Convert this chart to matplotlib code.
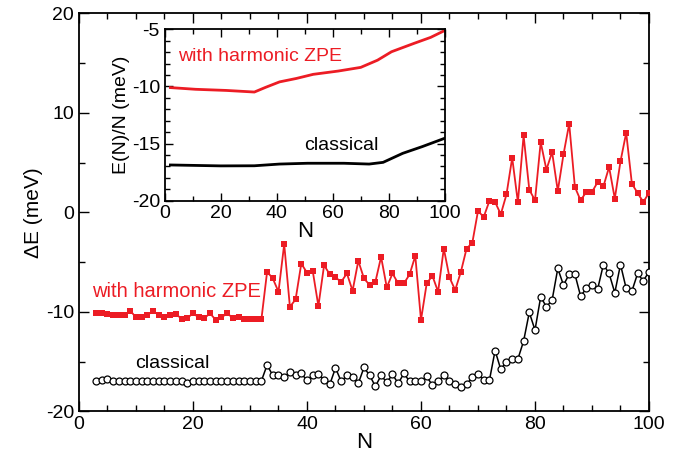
import numpy as np
import matplotlib
matplotlib.use("Agg")
import matplotlib.pyplot as plt
from matplotlib.ticker import MultipleLocator

plt.rcParams["font.family"] = ["Liberation Sans", "DejaVu Sans"]
plt.rcParams["axes.unicode_minus"] = False

RED = "#ec1c24"

# main panel: Delta E per cluster size N
n_vals = list(range(3, 101))

zpe_vals = [
    -10.16, -10.16, -10.23, -10.36, -10.36, -10.30, -9.90, -10.56, -10.56, -10.30,
    -9.96, -10.30, -10.56, -10.36, -10.23, -10.70, -10.63, -10.16, -10.56, -10.63,
    -10.16, -10.83, -10.56, -10.16, -10.63, -10.56, -10.70, -10.76, -10.76, -10.76,
    -5.98, -6.65, -7.99, -3.20, -9.50, -8.76, -5.15, -6.08, -5.88, -9.43,
    -5.32, -6.25, -6.55, -6.99, -6.15, -7.89, -4.88, -6.65, -7.32, -6.99,
    -4.48, -7.55, -6.15, -7.15, -7.15, -6.25, -4.38, -10.83, -7.15, -6.38,
    -7.99, -3.64, -6.55, -7.82, -5.98, -3.64, -3.08, 0.13, -0.47, 1.13,
    1.03, -0.20, 1.80, 5.48, 1.00, 7.72, 2.27, 1.20, 7.05, 4.28,
    6.05, 2.14, 5.82, 8.90, 2.54, 1.20, 2.04, 2.04, 3.04, 2.60,
    4.55, 1.37, 5.12, 7.99, 2.87, 1.94, 1.04, 1.94,
]

classical_vals = [
    -16.95, -16.90, -16.80, -16.95, -17.00, -16.95, -16.95, -17.00, -16.95, -16.95,
    -16.95, -16.95, -17.00, -16.95, -16.95, -16.95, -17.15, -16.95, -17.00, -16.95,
    -16.95, -16.95, -16.95, -16.95, -16.95, -16.95, -17.00, -16.95, -16.95, -16.95,
    -15.35, -16.40, -16.40, -16.55, -16.10, -16.40, -16.20, -16.90, -16.40, -16.25,
    -16.85, -17.30, -15.65, -17.00, -16.40, -16.55, -17.20, -15.60, -16.40, -17.50,
    -16.40, -17.10, -16.30, -17.20, -16.20, -17.00, -17.00, -16.95, -16.50, -17.40,
    -17.00, -16.40, -17.00, -17.25, -17.60, -17.30, -16.60, -16.30, -16.85, -16.90,
    -13.90, -15.80, -15.00, -14.75, -14.75, -12.95, -10.06, -11.84, -8.50, -9.50,
    -8.83, -5.65, -7.32, -6.22, -6.22, -8.43, -7.66, -7.32, -7.70, -5.25,
    -6.15, -8.09, -5.25, -7.66, -7.93, -6.15, -6.89, -5.98,
]

# inset: energy per particle
inset_n_zpe = [2, 11, 22, 32, 36, 41, 47, 53, 62, 70, 76, 81, 89, 95, 100]
inset_e_zpe = [-10.1, -10.25, -10.35, -10.49, -10.08, -9.6, -9.3, -8.94,
               -8.65, -8.33, -7.7, -6.96, -6.23, -5.7, -5.1]

inset_n_cl = [2, 20, 32, 41, 51, 64, 73, 78, 85, 92, 100]
inset_e_cl = [-16.88, -16.96, -16.95, -16.8, -16.73, -16.73, -16.8, -16.65,
              -15.86, -15.27, -14.54]


def style_axes(ax, labelsize):
    ax.tick_params(which="both", direction="in", top=True, right=True,
                   width=1.0, labelsize=labelsize)
    ax.tick_params(which="major", length=7)
    ax.tick_params(which="minor", length=4)
    for sp in ax.spines.values():
        sp.set_linewidth(1.3)


fig = plt.figure(figsize=(6.81, 4.59), dpi=100)

ax = fig.add_axes([0.116, 0.104, 0.837, 0.867])

ax.plot(n_vals, zpe_vals, color=RED, lw=1.3, marker="s",
        markersize=4.8, markeredgewidth=0, zorder=3)
ax.plot(n_vals, classical_vals, color="black", lw=1.1, marker="o",
        markersize=5, markerfacecolor="white", markeredgecolor="black",
        markeredgewidth=0.9, zorder=3)

ax.set_xlim(0, 100)
ax.set_ylim(-20, 20)
ax.xaxis.set_major_locator(MultipleLocator(20))
ax.xaxis.set_minor_locator(MultipleLocator(5))
ax.yaxis.set_major_locator(MultipleLocator(10))
ax.yaxis.set_minor_locator(MultipleLocator(5))
style_axes(ax, 14)

ax.set_xlabel("N", fontsize=16, labelpad=-1)
ax.set_ylabel("\u0394E (meV)", fontsize=15, labelpad=2)

ax.text(2.3, -8.0, "with harmonic ZPE", color=RED, fontsize=14.5,
        ha="left", va="center")
ax.text(16.4, -15.15, "classical", color="black", fontsize=14,
        ha="center", va="center")

# inset
axi = fig.add_axes([0.242, 0.563, 0.411, 0.373])
axi.plot(inset_n_zpe, inset_e_zpe, color=RED, lw=2)
axi.plot(inset_n_cl, inset_e_cl, color="black", lw=2)

axi.set_xlim(0, 100)
axi.set_ylim(-20, -5)
axi.xaxis.set_major_locator(MultipleLocator(20))
axi.xaxis.set_minor_locator(MultipleLocator(10))
axi.yaxis.set_major_locator(MultipleLocator(5))
axi.yaxis.set_minor_locator(MultipleLocator(1))
style_axes(axi, 14)
axi.tick_params(which="major", length=6)
axi.tick_params(which="minor", length=3.5)

axi.set_xlabel("N", fontsize=16, labelpad=-1)
axi.set_ylabel("E(N)/N (meV)", fontsize=14, labelpad=1)

axi.text(4.6, -7.4, "with harmonic ZPE", color=RED, fontsize=14,
         ha="left", va="center")
axi.text(63, -15.2, "classical", color="black", fontsize=14,
         ha="center", va="center")

fig.savefig("out.png", dpi=100)
